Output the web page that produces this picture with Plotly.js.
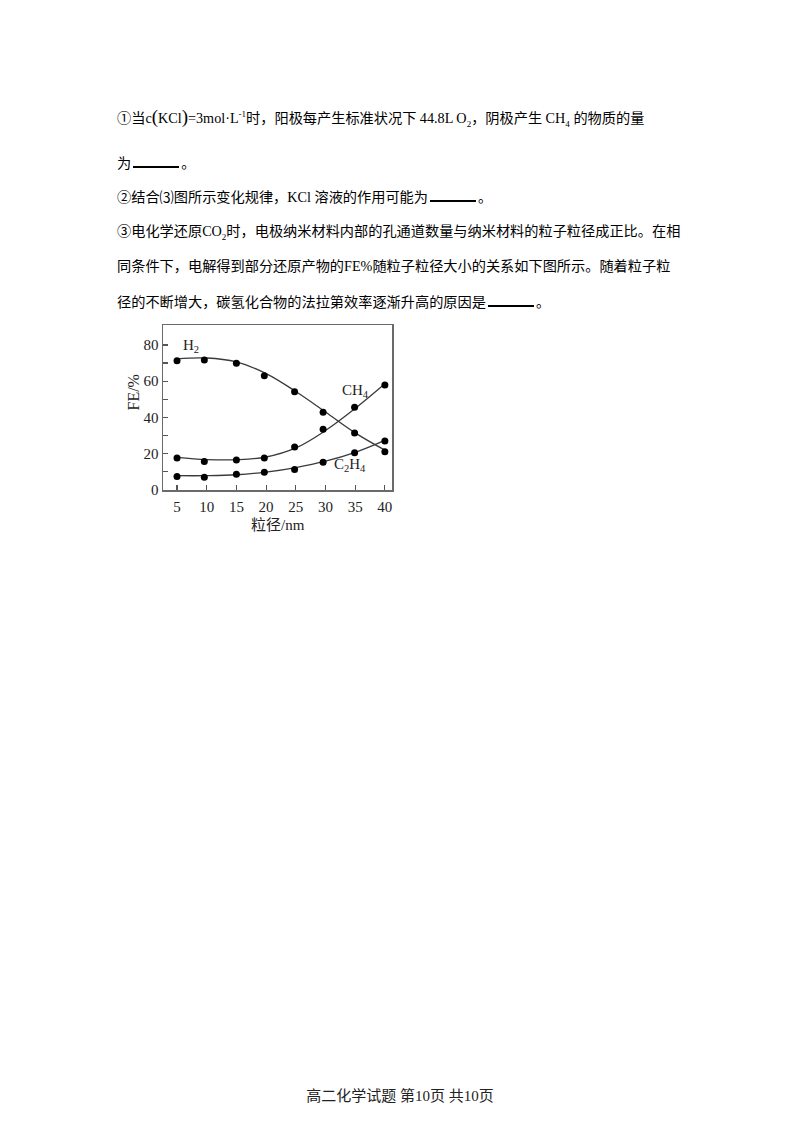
<!DOCTYPE html>
<html>
<head>
<meta charset="utf-8">
<script src="https://cdn.plot.ly/plotly-3.0.1.min.js"></script>
<style>
  body { margin: 0; background: #fff; }
  #page { position: relative; width: 800px; height: 1131px; overflow: hidden; }
  #chart { position: absolute; left: 0; top: 0; width: 800px; height: 1131px; }
  .line {
    position: absolute; left: 117px; white-space: nowrap;
    font-family: "Liberation Serif", "Noto Sans CJK SC", serif;
    font-size: 14.2px; line-height: 20px; color: #000;
  }
  .line sub, .line sup { font-size: 9px; line-height: 0; }
  .blank { display: inline-block; width: 46px; border-bottom: 2px solid #000; margin: 0 2px; }
  .big { font-size: 19px; }
  #footer {
    position: absolute; left: 0; width: 800px; top: 1084px; text-align: center;
    font-family: "Liberation Serif", "Noto Sans CJK SC", serif; font-size: 15px; color: #222;
  }
</style>
</head>
<body>
<div id="page">
  <div id="chart"></div>
  <div class="line" style="top:107px">①当c<span class="big">(</span>KCl<span class="big">)</span>=3mol·L<sup>-1</sup>时，阳极每产生标准状况下 44.8L O<sub>2</sub>，阴极产生 CH<sub>4</sub> 的物质的量</div>
  <div class="line" style="top:153px">为<span class="blank"></span>。</div>
  <div class="line" style="top:187px">②结合⑶图所示变化规律，KCl 溶液的作用可能为<span class="blank"></span>。</div>
  <div class="line" style="top:221px">③电化学还原CO<sub>2</sub>时，电极纳米材料内部的孔通道数量与纳米材料的粒子粒径成正比。在相</div>
  <div class="line" style="top:256px">同条件下，电解得到部分还原产物的FE%随粒子粒径大小的关系如下图所示。随着粒子粒</div>
  <div class="line" style="top:292px">径的不断增大，碳氢化合物的法拉第效率逐渐升高的原因是<span class="blank"></span>。</div>
  <div id="footer">高二化学试题 第10页 共10页</div>
</div>
<script>
// Measured points (particle size in nm, FE in %)
var sizeX = [5, 9.6, 15, 19.7, 24.8, 29.6, 34.9, 40];
var h2Pts = [71.3, 71.7, 69.9, 63.0, 54.2, 42.9, 31.4, 21.1];
var ch4Pts = [17.6, 15.7, 16.5, 17.7, 23.7, 33.5, 45.7, 57.9];
var c2h4Pts = [7.4, 7.0, 8.7, 9.8, 11.3, 15.3, 20.5, 27.0];

// Smooth fitted curves as drawn in the figure
var curveX = [5, 10, 15, 20, 25, 30, 35, 40];
var h2Curve = [72.3, 72.8, 70.6, 64.2, 54.3, 43.0, 31.5, 22.0];
var ch4Curve = [18.0, 16.8, 16.7, 18.2, 23.2, 32.8, 45.0, 58.6];
var c2h4Curve = [7.9, 7.9, 8.4, 9.9, 12.4, 15.9, 20.8, 27.4];

var xTicks = [5, 10, 15, 20, 25, 30, 35, 40];
var yTicks = [0, 20, 40, 60, 80];

var lineColor = '#3a3a3a';
var serif = 'Liberation Serif, Noto Sans CJK SC, serif';

function curve(y) {
  return {
    x: curveX, y: y, mode: 'lines', type: 'scatter', hoverinfo: 'skip',
    line: { color: lineColor, width: 1.3, shape: 'spline', smoothing: 1.1 },
  };
}

function points(y) {
  return {
    x: sizeX, y: y, mode: 'markers', type: 'scatter',
    marker: { color: '#000', size: 7 },
  };
}

var traces = [
  curve(h2Curve), curve(ch4Curve), curve(c2h4Curve),
  points(h2Pts), points(ch4Pts), points(c2h4Pts),
];

var axisStyle = {
  showgrid: false,
  zeroline: false,
  showline: true,
  linecolor: '#6a6a6a',
  linewidth: 1.5,
  mirror: true,
  ticks: 'inside',
  ticklen: 5,
  tickwidth: 1.2,
  tickcolor: '#555',
  tickfont: { family: serif, size: 15, color: '#222' },
};

var layout = {
  width: 800,
  height: 1131,
  showlegend: false,
  paper_bgcolor: 'rgba(0,0,0,0)',
  plot_bgcolor: 'rgba(0,0,0,0)',
  margin: { l: 163, r: 408, t: 325, b: 641, pad: 0 },
  xaxis: Object.assign({}, axisStyle, {
    range: [2.64, 41.2],
    tickmode: 'array',
    tickvals: xTicks,
    ticktext: xTicks.map(String),
    ticklabelstandoff: 2,
  }),
  yaxis: Object.assign({}, axisStyle, {
    range: [0, 91],
    tickmode: 'array',
    tickvals: yTicks,
    ticktext: yTicks.map(String),
    ticklabelstandoff: 0,
    minor: { ticks: 'inside', tickvals: [10, 30, 50, 70], ticklen: 5, tickcolor: '#555', tickwidth: 1.2 },
  }),
  annotations: [
    { text: 'H<sub>2</sub>', x: 7.4, y: 79.4, xref: 'x', yref: 'y', showarrow: false,
      font: { family: serif, size: 15, color: '#222' } },
    { text: 'CH<sub>4</sub>', x: 35.1, y: 54.6, xref: 'x', yref: 'y', showarrow: false,
      font: { family: serif, size: 15, color: '#222' } },
    { text: 'C<sub>2</sub>H<sub>4</sub>', x: 34.1, y: 13.8, xref: 'x', yref: 'y', showarrow: false,
      font: { family: serif, size: 15, color: '#222' } },
    { text: '粒径/nm', x: 0.5, y: 0, xref: 'paper', yref: 'paper', yanchor: 'middle', yshift: -35,
      showarrow: false, font: { family: serif, size: 15, color: '#222' } },
    { text: 'FE/%', x: 0, y: 0.5, xref: 'paper', yref: 'paper', xanchor: 'center', xshift: -30, yshift: 15,
      textangle: -90, showarrow: false, font: { family: serif, size: 16, color: '#222' } },
  ],
};

var config = { responsive: false, displayModeBar: false, staticPlot: true };

Plotly.newPlot('chart', traces, layout, config);
</script>
</body>
</html>
